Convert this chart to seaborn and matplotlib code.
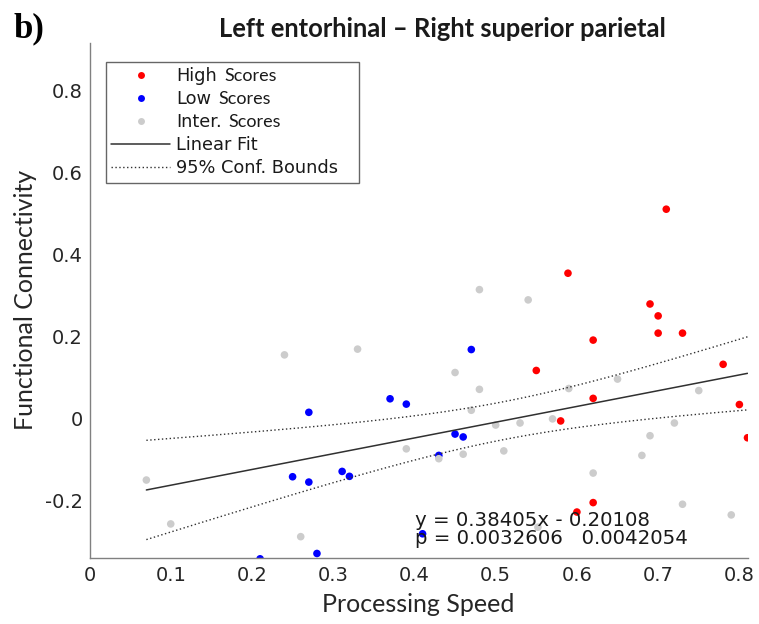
import numpy as np
import pandas as pd
import matplotlib
matplotlib.use("Agg")
import matplotlib.pyplot as plt
import seaborn as sns
from matplotlib.lines import Line2D
from matplotlib.transforms import IdentityTransform

# ---------------- data ----------------
high_x = [0.589, 0.710, 0.690, 0.700, 0.700, 0.730, 0.620, 0.550, 0.780, 0.620,
          0.800, 0.580, 0.810, 0.620, 0.600]
high_y = [0.354, 0.510, 0.279, 0.250, 0.208, 0.208, 0.191, 0.117, 0.132, 0.049,
          0.034, -0.006, -0.047, -0.205, -0.228]

low_x = [0.270, 0.250, 0.270, 0.280, 0.210, 0.470, 0.370, 0.390, 0.450, 0.460,
         0.430, 0.311, 0.320, 0.410]
low_y = [0.015, -0.142, -0.155, -0.329, -0.342, 0.168, 0.048, 0.035, -0.038, -0.045,
         -0.090, -0.129, -0.141, -0.281]

inter_x = [0.240, 0.070, 0.100, 0.260, 0.330, 0.480, 0.540, 0.450, 0.480, 0.470,
           0.500, 0.530, 0.570, 0.390, 0.460, 0.430, 0.510, 0.552, 0.650, 0.590,
           0.750, 0.720, 0.690, 0.680, 0.620, 0.730, 0.790]
inter_y = [0.155, -0.150, -0.257, -0.288, 0.169, 0.314, 0.289, 0.112, 0.071, 0.020,
           -0.016, -0.011, -0.001, -0.074, -0.087, -0.098, -0.079, -0.265, 0.096, 0.073,
           0.068, -0.011, -0.042, -0.090, -0.133, -0.209, -0.235]

group_names = ["High", "Low", "Inter."]
group_suffix = "Scores"
fit_slope = 0.38405
fit_intercept = -0.20108
p_values = ["0.0032606", "0.0042054"]

x_ticks = [0, 0.1, 0.2, 0.3, 0.4, 0.5, 0.6, 0.7, 0.8]
x_tick_labels = ["0", "0.1", "0.2", "0.3", "0.4", "0.5", "0.6", "0.7", "0.8"]
y_ticks = [-0.2, 0, 0.2, 0.4, 0.6, 0.8]
y_tick_labels = ["-0.2", "0", "0.2", "0.4", "0.6", "0.8"]

title = "Left entorhinal \u2013 Right superior parietal"
panel_label = "b)"
x_label = "Processing Speed"
y_label = "Functional Connectivity"

# ---------------- frame ----------------
df = pd.concat([
    pd.DataFrame({"x": high_x, "y": high_y, "group": "High"}),
    pd.DataFrame({"x": low_x, "y": low_y, "group": "Low"}),
    pd.DataFrame({"x": inter_x, "y": inter_y, "group": "Inter."}),
], ignore_index=True)

palette = {"High": "#ff0000", "Low": "#0000ff", "Inter.": "#cccccc"}

sns.set_style("white")
plt.rcParams["font.family"] = ["DejaVu Sans"]

W, H = 759, 624
fig = plt.figure(figsize=(W / 100, H / 100), dpi=100)
ax_l, ax_r, ax_t, ax_b = 89.5, 747.5, 43, 558
ax = fig.add_axes([ax_l / W, 1 - ax_b / H, (ax_r - ax_l) / W, (ax_b - ax_t) / H])

sns.scatterplot(data=df, x="x", y="y", hue="group", palette=palette,
                s=30, linewidth=0, legend=False, ax=ax, zorder=2)

# linear fit and 95% confidence bounds of the fit
xa = np.asarray(df["x"])
ya = np.asarray(df["y"])
n = len(xa)
xbar = xa.mean()
sxx = np.sum((xa - xbar) ** 2)
resid = ya - (fit_slope * xa + fit_intercept)
s = np.sqrt(np.sum(resid ** 2) / (n - 2))
t_crit = 2.005
xs = np.linspace(xa.min(), xa.max(), 200)
yfit = fit_slope * xs + fit_intercept
half = t_crit * s * np.sqrt(1.0 / n + (xs - xbar) ** 2 / sxx)

line_col = "#303030"
ax.plot(xs, yfit, color=line_col, lw=1.1, zorder=3)
ax.plot(xs, yfit + half, color=line_col, lw=1.0, ls=(0, (1, 1.8)), zorder=3)
ax.plot(xs, yfit - half, color=line_col, lw=1.0, ls=(0, (1, 1.8)), zorder=3)

ax.set_xlim(0, 0.81)
ax.set_ylim(-0.34, 0.915)
ax.set_xticks(x_ticks)
ax.set_xticklabels(x_tick_labels)
ax.set_yticks(y_ticks)
ax.set_yticklabels(y_tick_labels)

for side in ["top", "right"]:
    ax.spines[side].set_visible(False)
for side in ["left", "bottom"]:
    ax.spines[side].set_color("#808080")
    ax.spines[side].set_linewidth(1.0)
ax.tick_params(direction="in", length=5, width=1, color="#808080",
               labelsize=14, labelcolor="#262626")
ax.tick_params(axis="x", pad=6)
ax.tick_params(axis="y", pad=5)

ax.set_xlabel(x_label, fontsize=18, family="Lato", color="#262626")
ax.set_ylabel(y_label, fontsize=18, family="Lato", color="#262626")
ax.xaxis.set_label_coords(0.5, (ax_b - 612) / (ax_b - ax_t))
ax.xaxis.label.set_verticalalignment("baseline")
ax.yaxis.set_label_coords((25.5 - ax_l) / (ax_r - ax_l), (ax_b - 300) / (ax_b - ax_t))
ax.yaxis.label.set_verticalalignment("center")

# equation text
ax.text(0.401, -0.261, f"y = {fit_slope}x - {abs(fit_intercept):.5f}", fontsize=14.2,
        color="#1a1a1a", va="baseline", ha="left", zorder=4)
ax.text(0.401, -0.305, f"p = {p_values[0]}   {p_values[1]}", fontsize=14.2,
        color="#1a1a1a", va="baseline", ha="left", zorder=4)

# legend
handles = [
    Line2D([], [], ls="none", marker="o", ms=5, mec="none", mfc=palette["High"]),
    Line2D([], [], ls="none", marker="o", ms=5, mec="none", mfc=palette["Low"]),
    Line2D([], [], ls="none", marker="o", ms=5, mec="none", mfc=palette["Inter."]),
    Line2D([], [], color=line_col, lw=1.1),
    Line2D([], [], color=line_col, lw=1.0, ls=(0, (1, 1.8))),
]
labels = group_names + ["Linear Fit", "95% Conf. Bounds"]
leg_x0 = (106 - ax_l) / (ax_r - ax_l)
leg_w = (359 - 106) / (ax_r - ax_l)
leg_top = (ax_b - 62) / (ax_b - ax_t)
leg = ax.legend(handles, labels, loc="upper left", mode="expand",
                bbox_to_anchor=(leg_x0, leg_top - 0.3, leg_w, 0.3),
                borderaxespad=0, fontsize=12.8, frameon=True, fancybox=False,
                edgecolor="#404040", handlelength=3.3, handletextpad=0.35,
                borderpad=0.3, labelspacing=0.28)
leg.get_frame().set_linewidth(1.0)
for t in leg.get_texts():
    t.set_color("#1a1a1a")

fig.text(442 / W, 1 - 37 / H, title, ha="center", va="baseline",
         fontsize=18.4, fontweight="bold", family="Lato", color="#1a1a1a")
fig.text(14 / W, 1 - 37 / H, panel_label, ha="left", va="baseline",
         fontsize=25, fontweight="bold", family="Liberation Serif", color="black")

# smaller "Scores" suffix after each group label
fig.canvas.draw()
renderer = fig.canvas.get_renderer()
for t in leg.get_texts()[:3]:
    bb = t.get_window_extent(renderer)
    _, _, d = renderer.get_text_width_height_descent(t.get_text() + "lpg", t.get_fontproperties(), ismath=False)
    fig.text(bb.x1 + 7, bb.y0 + d, group_suffix, transform=IdentityTransform(),
             fontsize=13, family="Lato", color="#1a1a1a", va="baseline", ha="left")

fig.savefig("out.png", dpi=100)
